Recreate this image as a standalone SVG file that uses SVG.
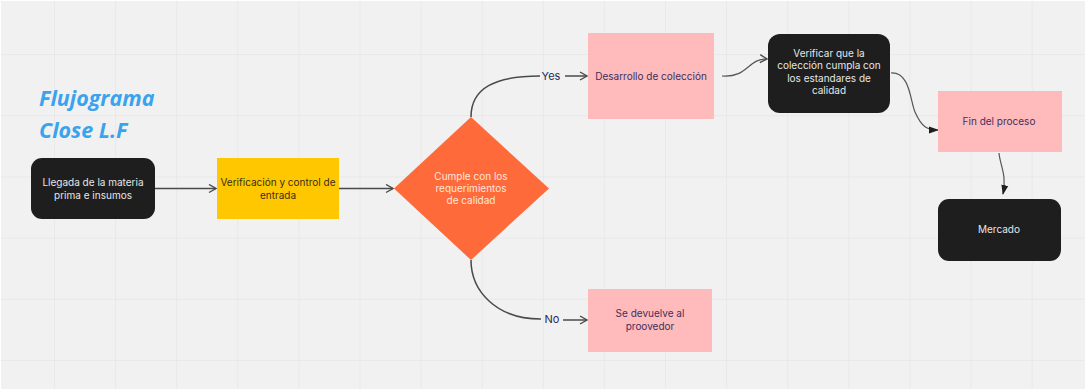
<svg xmlns="http://www.w3.org/2000/svg" width="1086" height="391" viewBox="0 0 1086 391">
<defs>
<pattern id="grid" x="54" y="54" width="61.1" height="61.2" patternUnits="userSpaceOnUse">
<path d="M0,0 V61.2 M0,0 H61.1" fill="none" stroke="#E6E6E6" stroke-width="1.5"/>
</pattern>
<marker id="open" viewBox="0 0 10 10" refX="9" refY="5" markerWidth="10" markerHeight="10" markerUnits="userSpaceOnUse" orient="auto">
<path d="M2,1 L9,5 L2,9" fill="none" stroke="#4A4A4A" stroke-width="1.4"/>
</marker>
<marker id="filled" viewBox="0 0 10 10" refX="9" refY="5" markerWidth="10" markerHeight="10" markerUnits="userSpaceOnUse" orient="auto">
<path d="M0,1.5 L10,5 L0,8.5 Z" fill="#1E1E1E"/>
</marker>
</defs>
<style>
.lbl{font-family:Inter,"Noto Sans","Liberation Sans",sans-serif;font-size:10px;text-anchor:middle}
.wt{fill:#E6E6E6}
.dk{fill:#3A2E18}
.pk{fill:#3E2F5E}
.dm{fill:#FFE6DA}
.edge{fill:none;stroke:#4A4A4A;stroke-width:1.5}
.thin{fill:none;stroke:#555;stroke-width:1.2}
.elbl{font-family:Inter,"Noto Sans","Liberation Sans",sans-serif;font-size:11px;fill:#2B2A5A;text-anchor:middle}
.title{font-family:"Open Sans","Noto Sans",sans-serif;font-weight:bold;font-style:italic;font-size:21.5px;fill:#3AA3EE}
</style>
<rect width="1086" height="391" fill="#FFFFFF"/>
<rect x="1" y="1" width="1084" height="388" fill="#F1F1F1"/>
<rect x="1" y="1" width="1084" height="388" fill="url(#grid)"/>

<g id="title">
<text class="title" x="39" y="106">Flujograma</text>
<text class="title" x="39" y="138">Close L.F</text>
</g>

<g id="connectors">
<path class="edge" d="M155,188.5 H216" marker-end="url(#open)"/>
<path class="edge" d="M339,188.5 H393" marker-end="url(#open)"/>
<path class="edge" d="M471,117 C471,88 495,76 540,76"/>
<path class="edge" d="M565,76 H587" marker-end="url(#open)"/>
<path class="edge" d="M471,260 C471,290 495,319 541,319"/>
<path class="edge" d="M563,320 H587" marker-end="url(#open)"/>
<path class="thin" d="M722,76 C748,78 748,58 767,59" marker-end="url(#open)"/>
<path class="thin" d="M891,73 C910,72 910,100 915,112 C922,128 928,130 938,130" marker-end="url(#filled)"/>
<path class="thin" d="M999,153 C1000,165 1007,175 1003,194" marker-end="url(#filled)"/>
<text class="elbl" x="551" y="80">Yes</text>
<text class="elbl" x="552" y="323">No</text>
</g>

<g id="n1">
<rect x="31" y="158" width="124" height="61" rx="11" fill="#1E1E1E"/>
<text class="lbl wt" x="93" y="186">Llegada de la materia</text>
<text class="lbl wt" x="93" y="198.5">prima e insumos</text>
</g>
<g id="n2">
<rect x="217" y="158" width="122" height="61" fill="#FFC700"/>
<text class="lbl dk" x="278" y="186">Verificación y control de</text>
<text class="lbl dk" x="278" y="198.5">entrada</text>
</g>
<g id="n3">
<polygon points="471,117 549,188.5 471,260 394,188.5" fill="#FF6A3B"/>
<text class="lbl dm" x="471" y="179.5">Cumple con los</text>
<text class="lbl dm" x="471" y="191.5">requerimientos</text>
<text class="lbl dm" x="471" y="203.5">de calidad</text>
</g>
<g id="n4">
<rect x="588" y="33" width="126" height="86" fill="#FFBBBB"/>
<text class="lbl pk" x="651" y="80">Desarrollo de colección</text>
</g>
<g id="n5">
<rect x="588" y="289" width="124" height="63" fill="#FFBBBB"/>
<text class="lbl pk" x="650" y="316.5">Se devuelve al</text>
<text class="lbl pk" x="650" y="329.5">proovedor</text>
</g>
<g id="n6">
<rect x="768" y="34" width="122" height="79" rx="12" fill="#1E1E1E"/>
<text class="lbl wt" x="829" y="56.5">Verificar que la</text>
<text class="lbl wt" x="829" y="69">colección cumpla con</text>
<text class="lbl wt" x="829" y="81.5">los estandares de</text>
<text class="lbl wt" x="829" y="94">calidad</text>
</g>
<g id="n7">
<rect x="938" y="91" width="124" height="61" fill="#FFBBBB"/>
<text class="lbl pk" x="999" y="124.5">Fin del proceso</text>
</g>
<g id="n8">
<rect x="938" y="199" width="123" height="62" rx="11" fill="#1E1E1E"/>
<text class="lbl wt" x="999" y="232.5">Mercado</text>
</g>
</svg>
